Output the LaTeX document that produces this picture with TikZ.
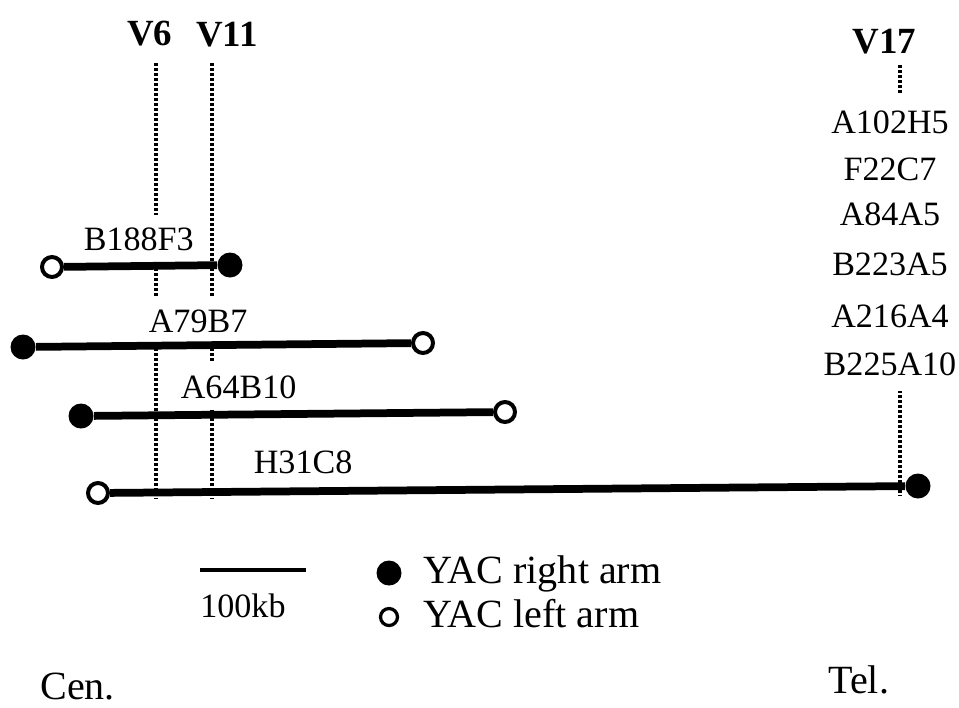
\documentclass[tikz,border=0pt]{standalone}
\usepackage{fontspec}
\setmainfont{Liberation Serif}
\tikzset{
  vguide/.style={line width=0.07cm, dash pattern=on 0.055cm off 0.045cm},
  yacline/.style={line width=0.155cm},
  rarm/.style={circle, fill=black, minimum size=0.5cm, inner sep=0pt},
  larm/.style={circle, draw, fill=white, line width=0.08cm, minimum size=0.4cm, inner sep=0pt},
  clonelab/.style={fill=white, inner xsep=2pt, inner ysep=0.24cm, font=\fontsize{19.4}{23}\selectfont},
  vlab/.style={font=\bfseries\fontsize{21}{24}\selectfont},
  keylab/.style={font=\fontsize{22.8}{27}\selectfont}}

\begin{document}
\begin{tikzpicture}[x=0.02cm, y=-0.02cm]
\useasboundingbox (0,0) rectangle (959,707);
\node[vlab, anchor=base west, inner sep=0pt] (v6) at (127,45) {V6};
\node[vlab, anchor=base west, inner sep=0pt] (v11) at (196,46) {V11};
\node[vlab, anchor=base west, inner sep=0pt] (v17) at (852,53) {V17};
\coordinate (v6top) at (156,63);
\coordinate (v6bot) at (156,498);
\coordinate (v11top) at (212,63);
\coordinate (v11bot) at (212,498);
\coordinate (v17top) at (900,65);
\coordinate (v17bot) at (900,495);
\draw[vguide] (v6top) -- (v6bot);
\draw[vguide] (v11top) -- (v11bot);
\draw[vguide] (v17top) -- (v17bot);
\foreach \t/\y [count=\i] in {A102H5/133, F22C7/180, A84A5/225, B223A5/275, A216A4/327, B225A10/375}
  \node[clonelab, inner ysep=0.32cm, anchor=base] (tel\i) at (890,\y) {\t};
\node[clonelab, anchor=base west] (lb188) at (80,250) {B188F3};
\node[clonelab, anchor=base west] (la79) at (145,332) {A79B7};
\node[clonelab, anchor=base west] (la64) at (177,398) {A64B10};
\node[clonelab, anchor=base west] (lh31) at (250,473) {H31C8};
\node[larm] (b188l) at (52,267) {};
\node[rarm] (b188r) at (230,265) {};
\node[rarm] (a79l) at (23,347) {};
\node[larm] (a79r) at (423,343) {};
\node[rarm] (a64l) at (81,416) {};
\node[larm] (a64r) at (505,412) {};
\node[larm] (h31l) at (98,493) {};
\node[rarm] (h31r) at (918,486) {};
\draw[yacline] (b188l) -- (b188r);
\draw[yacline] (a79l) -- (a79r);
\draw[yacline] (a64l) -- (a64r);
\draw[yacline] (h31l) -- (h31r);
\coordinate (sb1) at (200,570);
\coordinate (sb2) at (306,570);
\draw[line width=0.09cm] (sb1) -- (sb2);
\node[clonelab, fill=none, inner sep=0pt, anchor=base west] (kb) at (200,617) {100kb};
\node[rarm] (keyr) at (389,573) {};
\node[larm, line width=0.065cm, minimum size=0.34cm] (keyl) at (389,617) {};
\node[keylab, anchor=base west, inner sep=0pt] (keyrt) at (423,583) {YAC right arm};
\node[keylab, anchor=base west, inner sep=0pt] (keylt) at (423,627) {YAC left arm};
\node[keylab, anchor=base west, inner sep=0pt] (cen) at (40,699) {Cen.};
\node[keylab, anchor=base west, inner sep=0pt] (tel) at (828,693) {Tel.};
\end{tikzpicture}
\end{document}
